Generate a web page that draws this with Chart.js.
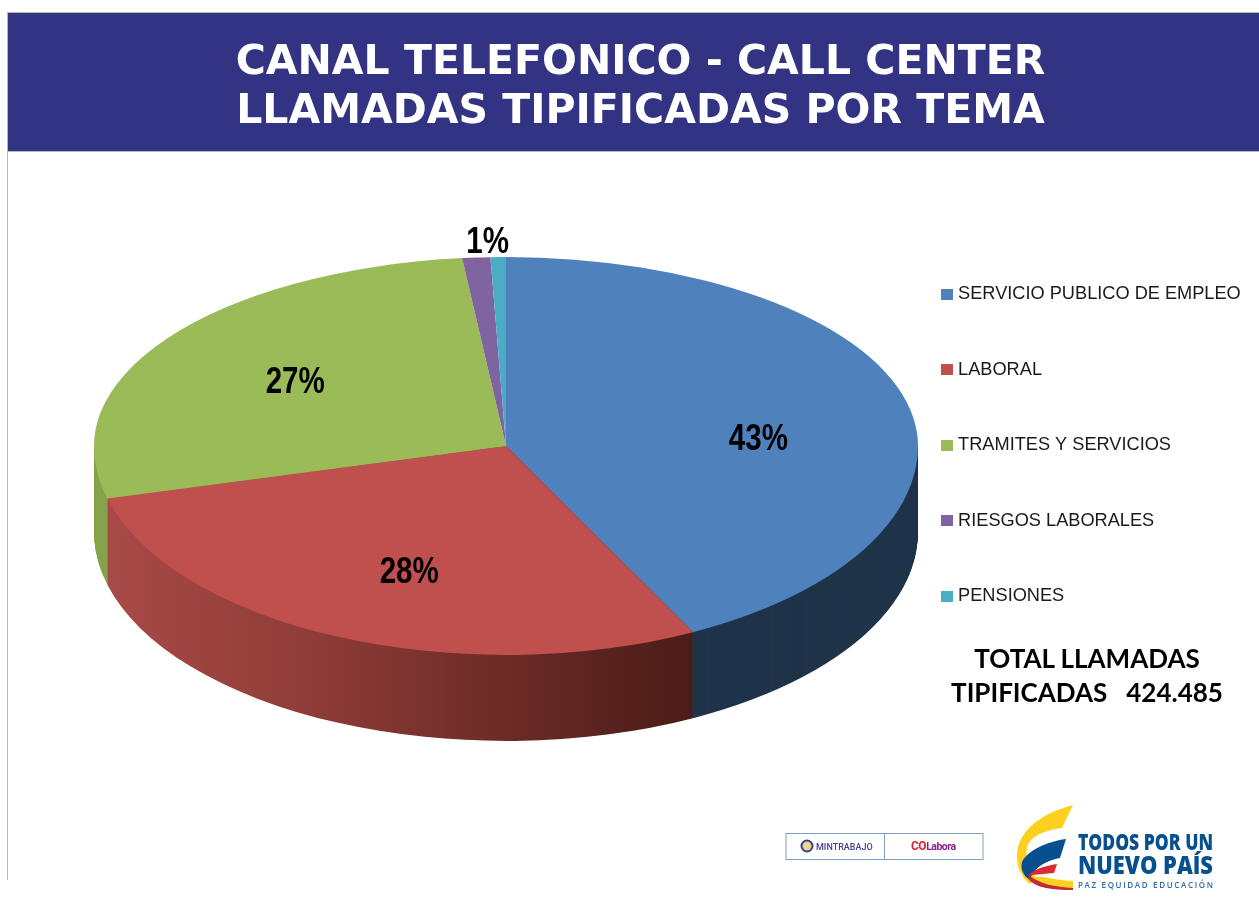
<!DOCTYPE html>
<html lang="es">
<head>
<meta charset="utf-8">
<title>Canal telefónico - Call Center</title>
<script src="https://cdn.jsdelivr.net/npm/chart.js@4"></script>
<style>
html,body{margin:0;padding:0;background:#fff;width:1259px;height:903px;overflow:hidden}
#band{position:absolute;left:7px;top:12px;width:1252px;height:140px;background:#333383;border-top:1px solid #b5b5b5;border-bottom:1px solid #b9b9c4;box-sizing:border-box}
#rule{position:absolute;left:7px;top:12px;width:1px;height:868px;background:#b8b8b8}
canvas{position:absolute;left:0;top:0}
#total{position:absolute;left:937px;top:641px;width:300px;text-align:center;font:bold 26px/34px Lato,sans-serif;color:#000;white-space:pre}
#logos{position:absolute;left:0;top:0}
</style>
</head>
<body>
<div id="band"></div>
<div id="rule"></div>
<canvas id="c" width="1259" height="903"></canvas>
<div id="total">TOTAL LLAMADAS
TIPIFICADAS   424.485</div>
<svg id="logos" width="1259" height="903" xmlns="http://www.w3.org/2000/svg">
  <rect x="786" y="833.5" width="197" height="26" fill="#fff" stroke="#7f9fc0" stroke-width="1"/>
  <line x1="884.5" y1="833" x2="884.5" y2="860" stroke="#7f9fc0"/>
  <circle cx="807" cy="846" r="5.5" fill="#e9d88a" stroke="#3c3c8c" stroke-width="2"/>
  <text x="816" y="849.5" font-family="Roboto,sans-serif" font-size="9" font-weight="500" fill="#41418c">MINTRABAJO</text>
  <text x="911" y="850" font-family="Roboto,sans-serif" font-size="12" font-weight="700" fill="#e0203a" letter-spacing="-.5">CO<tspan fill="#8a1e8a" font-size="10.5">Labora</tspan></text>
  <path d="M1073 805 C1046 812 1024 826 1018 847 C1015 862 1019 875 1030 884 L1036 878 C1029 868 1025 858 1027 847 C1030 838 1040 831 1062 828 Z" fill="#fdd01f"/>
  <path d="M1066 839 C1046 842 1028 850 1022 862 C1020 870 1024 876 1030 880 C1032 872 1040 862 1060 858 Z" fill="#06508f"/>
  <path d="M1057 864 C1044 866 1032 870 1028 876 C1036 874 1046 874 1054 873 Z" fill="#d92b34"/>
  <path d="M1030 878 C1040 874 1052 880 1073 881 L1073 890 C1052 888 1038 886 1030 878 Z" fill="#fdd01f"/>
  <path d="M1028 878 C1034 888 1052 890 1073 890 L1073 888 C1055 887 1040 884 1030 876 Z" fill="#c12a2f"/>
  <g fill="#06508f" font-family="'Open Sans',sans-serif" font-weight="800" text-anchor="start">
    <text x="1078" y="850" font-size="22" textLength="135" lengthAdjust="spacingAndGlyphs">TODOS POR UN</text>
    <text x="1078" y="874" font-size="24" textLength="135" lengthAdjust="spacingAndGlyphs">NUEVO PAÍS</text>
  </g>
  <text x="1078" y="888" font-family="'Open Sans',sans-serif" font-size="8" font-weight="600" fill="#2d6aa5" textLength="135">PAZ  EQUIDAD  EDUCACIÓN</text>
</svg>
<script>
const categories = ['SERVICIO PUBLICO DE EMPLEO', 'LABORAL', 'TRAMITES Y SERVICIOS', 'RIESGOS LABORALES', 'PENSIONES'];
const shares = [42.5, 28.45, 27.35, 1.1, 0.6];
const titleLines = ['CANAL TELEFONICO - CALL CENTER', 'LLAMADAS TIPIFICADAS POR TEMA'];
const sliceColors = ['#4f81bd', '#c0504d', '#9bbb59', '#8064a2', '#4bacc6'];

const view = {radius: 412, upper: 189, lower: 209, depth: 86};
const labelRadii = [0.63, 0.65, 0.625, 1.09, null];
const labelNudges = [[0, 22], [13, 3], [1, 4], [14, 3], [0, 0]];
const wallOrder = [0, 2, 3, 4, 1];

function wallFill(ctx, i) {
  if (i === 1) {
    const g = ctx.createLinearGradient(104, 0, 692, 0);
    g.addColorStop(0, '#a94a47');
    g.addColorStop(0.35, '#8f3c38');
    g.addColorStop(0.7, '#6a2a26');
    g.addColorStop(1, '#4b1c18');
    return g;
  }
  return ['#1f3349', null, '#86a34b', '#5f4a7c', '#35808f'][i];
}

function project(ctx, cy, shift, scale) {
  ctx.translate(0, cy + shift);
  ctx.scale(1, scale);
  ctx.translate(0, -cy);
}

// legend swatch: 12x11 square hung on the right of a wider transparent canvas
function swatch(color) {
  const c = document.createElement('canvas');
  c.width = 16; c.height = 11;
  const x = c.getContext('2d');
  x.fillStyle = color;
  x.fillRect(4, 0, 12, 11);
  return c;
}

const tiltedPie = {
  id: 'tiltedPie',
  afterLayout(chart) {
    const t = chart.titleBlock, l = chart.legend;
    t.left = 21; t.right = 1260;
    l.left = 941 - l.options.labels.padding;
    l.right = chart.width;
    l.width = l.right - l.left;
    l.top = 227.6;
    l.bottom = chart.height;
    l.height = l.bottom - l.top;
  },
  beforeDatasetDraw(chart, args) {
    const ctx = chart.ctx, meta = args.meta, arcs = meta.data;
    const cy = arcs[0].y, W = chart.width, H = chart.height;
    const lowerK = view.lower / view.radius, upperK = view.upper / view.radius;

    // side wall: the library's arcs repeated downward, front half only
    wallOrder.forEach(i => {
      const fill = wallFill(ctx, i);
      const ghost = Object.create(arcs[i]);
      ghost.options = {backgroundColor: fill, borderColor: fill, borderWidth: 0, borderAlign: 'center',
        offset: 0, spacing: 0, circular: true, selfJoin: false, borderRadius: 0, borderJoinStyle: 'round', borderDash: [], borderDashOffset: 0};
      for (let d = view.depth; d >= 0; d--) {
        ctx.save();
        ctx.beginPath();
        ctx.rect(0, cy + d, W, H);
        ctx.clip();
        project(ctx, cy, d, lowerK);
        ghost.draw(ctx);
        ctx.restore();
      }
    });

    // top face: back half and front half have different foreshortening
    ctx.save();
    ctx.beginPath(); ctx.rect(0, 0, W, cy); ctx.clip();
    project(ctx, cy, 0, upperK);
    meta.controller.draw();
    ctx.restore();

    ctx.save();
    ctx.beginPath(); ctx.rect(0, cy, W, H); ctx.clip();
    project(ctx, cy, 0, lowerK);
    meta.controller.draw();
    ctx.restore();
    return false;
  },
  afterDatasetsDraw(chart) {
    const ctx = chart.ctx, arcs = chart.getDatasetMeta(0).data;
    const total = shares.reduce((a, b) => a + b, 0);
    ctx.save();
    ctx.font = "bold 36px 'Liberation Sans'";
    ctx.fillStyle = '#000';
    ctx.textAlign = 'center';
    ctx.textBaseline = 'middle';
    arcs.forEach((arc, i) => {
      if (labelRadii[i] === null) return;
      const mid = (arc.startAngle + arc.endAngle) / 2;
      const r = arc.outerRadius * labelRadii[i];
      const s = Math.sin(mid);
      const k = s < 0 ? view.upper : view.lower;
      const x = arc.x + Math.cos(mid) * r + labelNudges[i][0];
      const y = arc.y + s * (r / view.radius) * k + labelNudges[i][1];
      ctx.save();
      ctx.translate(x, y);
      ctx.scale(0.82, 1);
      ctx.fillText(Math.round(shares[i] / total * 100) + '%', 0, 0);
      ctx.restore();
    });
    ctx.restore();
  }
};

new Chart(document.getElementById('c'), {
  type: 'pie',
  data: {
    labels: categories,
    datasets: [{data: shares, backgroundColor: sliceColors, borderWidth: 0, radius: view.radius}]
  },
  options: {
    responsive: false,
    animation: false,
    layout: {padding: {left: 0, right: 247, top: 0, bottom: 162}},
    plugins: {
      tooltip: {enabled: false},
      title: {
        display: true,
        text: titleLines,
        color: '#ffffff',
        font: {family: "'DejaVu Sans'", size: 41, weight: 'bold', lineHeight: 49 / 41},
        padding: {top: 38.5, bottom: 14.5}
      },
      legend: {
        position: 'chartArea',
        align: 'start',
        labels: {
          color: '#1a1a1a',
          font: {family: "'Liberation Sans'", size: 18.2},
          usePointStyle: true,
          pointStyleWidth: 8,
          boxHeight: 11,
          padding: 57.3,
          generateLabels(chart) {
            return categories.map((text, i) => ({
              text, index: i, hidden: false, lineWidth: 0,
              fillStyle: sliceColors[i], strokeStyle: sliceColors[i],
              fontColor: '#1a1a1a', pointStyle: swatch(sliceColors[i])
            }));
          }
        }
      }
    }
  },
  plugins: [tiltedPie]
});
</script>
</body>
</html>
